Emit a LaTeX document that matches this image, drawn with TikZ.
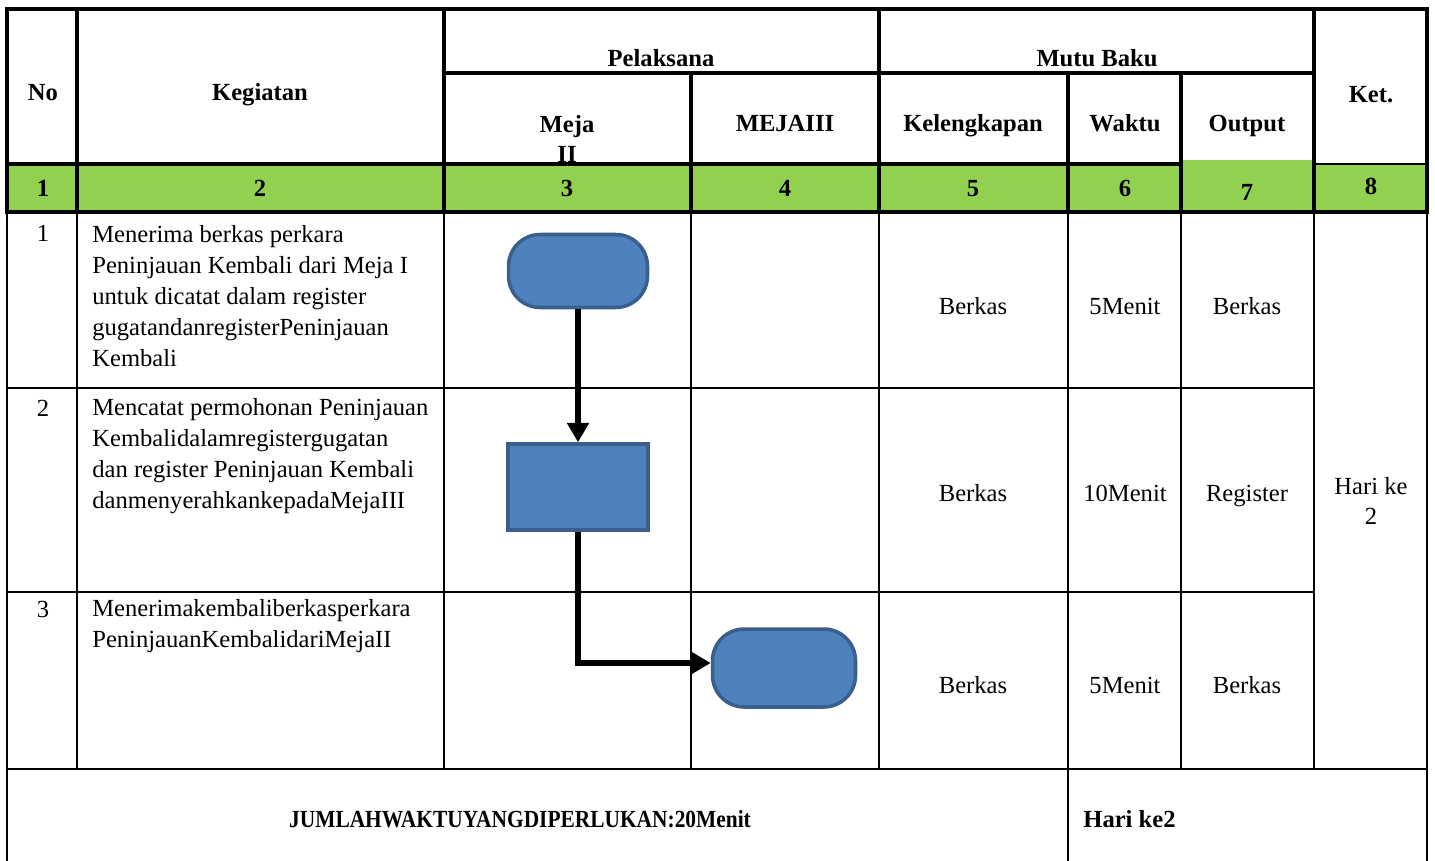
\documentclass[tikz,border=0pt]{standalone}
\usepackage{fontspec}
\setmainfont{Liberation Serif}
\newfontfamily\narrowserif[FakeStretch=0.87]{Liberation Serif}
\usetikzlibrary{arrows.meta}
\definecolor{bandgreen}{HTML}{92D050}
\definecolor{boxblue}{HTML}{4F81BD}
\definecolor{boxedge}{HTML}{3A5F8C}

\begin{document}
\begin{tikzpicture}[x=0.02cm,y=-0.02cm,
    thickrule/.style={line width=2.8pt},
    thinrule/.style={line width=1.1pt},
    headtext/.style={font=\fontsize{14}{17.6}\selectfont\bfseries,inner sep=0pt,anchor=base},
    bodytext/.style={font=\fontsize{14}{17.6}\selectfont,inner sep=0pt,anchor=base},
    activity/.style={bodytext,anchor=north west,align=left},
    terminal/.style={draw=boxedge,line width=2pt,fill=boxblue,rounded corners=18pt},
    process/.style={draw=boxedge,line width=2pt,fill=boxblue},
    flow/.style={line width=3.4pt,-{Triangle[length=11pt,width=12pt]}}]
    \useasboundingbox (0,0) rectangle (1435,861);
    \node[headtext] (hNo) at (43,101) {No};
    \node[headtext] (hKegiatan) at (260,101) {Kegiatan};
    \node[headtext] (hPelaksana) at (661,67) {Pelaksana};
    \node[headtext] (hMutu) at (1097,67) {Mutu Baku};
    \node[headtext,anchor=center,align=center] (hMejaII) at (567,139) {Meja\\II};
    \node[headtext] (hMejaIII) at (785,132) {MEJAIII};
    \node[headtext] (hKelengkapan) at (973,132) {Kelengkapan};
    \node[headtext] (hWaktu) at (1125,132) {Waktu};
    \node[headtext] (hOutput) at (1247,132) {Output};
    \node[headtext] (hKet) at (1371,103) {Ket.};
    \fill[bandgreen] (7,164) rectangle (1427,212);
    \fill[bandgreen] (1181,160) rectangle (1314,164);
    \node[headtext] (c1) at (43,197) {1};
    \node[headtext] (c2) at (260,197) {2};
    \node[headtext] (c3) at (567,197) {3};
    \node[headtext] (c4) at (785,197) {4};
    \node[headtext] (c5) at (973,197) {5};
    \node[headtext] (c6) at (1125,197) {6};
    \node[headtext] (c7) at (1247,201) {7};
    \node[headtext] (c8) at (1371,195) {8};
    \draw[thinrule] (7,212) -- (7,861) (77,212) -- (77,769) (444,212) -- (444,769)
        (691,212) -- (691,769) (879,212) -- (879,769) (1068,212) -- (1068,861)
        (1181,212) -- (1181,769) (1314,212) -- (1314,769) (1427,212) -- (1427,861);
    \draw[thinrule] (7,388) -- (1314,388) (7,592) -- (1314,592);
    \draw[line width=1.5pt] (7,769) -- (1427,769);
    \draw[thinrule] (1314,164) -- (1427,164);
    \draw[thickrule] (7,9) rectangle (1427,212);
    \draw[thickrule] (444,73) -- (1314,73) (7,164) -- (1181,164);
    \draw[thickrule] (77,9) -- (77,212) (444,9) -- (444,212) (879,9) -- (879,212)
        (1314,9) -- (1314,212) (691,73) -- (691,212) (1068,73) -- (1068,212) (1181,73) -- (1181,212);
    \node[bodytext] (no1) at (43,242) {1};
    \node[bodytext] (no2) at (43,416) {2};
    \node[bodytext] (no3) at (43,617) {3};
    \node[activity] (act1) at (92,225) {Menerima berkas perkara\\Peninjauan Kembali dari Meja I\\untuk dicatat dalam register\\gugatandanregisterPeninjauan\\Kembali};
    \node[activity] (act2) at (92,398) {Mencatat permohonan Peninjauan\\Kembalidalamregistergugatan\\dan register Peninjauan Kembali\\danmenyerahkankepadaMejaIII};
    \node[activity] (act3) at (92,599) {Menerimakembaliberkasperkara\\PeninjauanKembalidariMejaII};
    \node[terminal,minimum width=2.78cm,minimum height=1.46cm] (start) at (578,271) {};
    \node[process,minimum width=2.8cm,minimum height=1.72cm] (record) at (578,487) {};
    \node[terminal,minimum width=2.86cm,minimum height=1.56cm] (finish) at (784,668) {};
    \draw[flow] (start) -- (record);
    \draw[flow] (record) |- ([yshift=0.1cm]finish.west);
    \node[bodytext] (kel1) at (973,315) {Berkas};
    \node[bodytext] (wkt1) at (1125,315) {5Menit};
    \node[bodytext] (out1) at (1247,315) {Berkas};
    \node[bodytext] (kel2) at (973,501) {Berkas};
    \node[bodytext] (wkt2) at (1125,501) {10Menit};
    \node[bodytext] (out2) at (1247,501) {Register};
    \node[bodytext] (kel3) at (973,693) {Berkas};
    \node[bodytext] (wkt3) at (1125,693) {5Menit};
    \node[bodytext] (out3) at (1247,693) {Berkas};
    \node[bodytext,anchor=center,align=center] (ket) at (1371,501) {Hari ke\\2};
    \node[headtext,font=\fontsize{14}{17.6}\selectfont\narrowserif\bfseries] (total) at (520,827) {JUMLAHWAKTUYANGDIPERLUKAN:20Menit};
    \node[headtext,anchor=base west] (days) at (1083,827) {Hari ke2};
\end{tikzpicture}
\end{document}
